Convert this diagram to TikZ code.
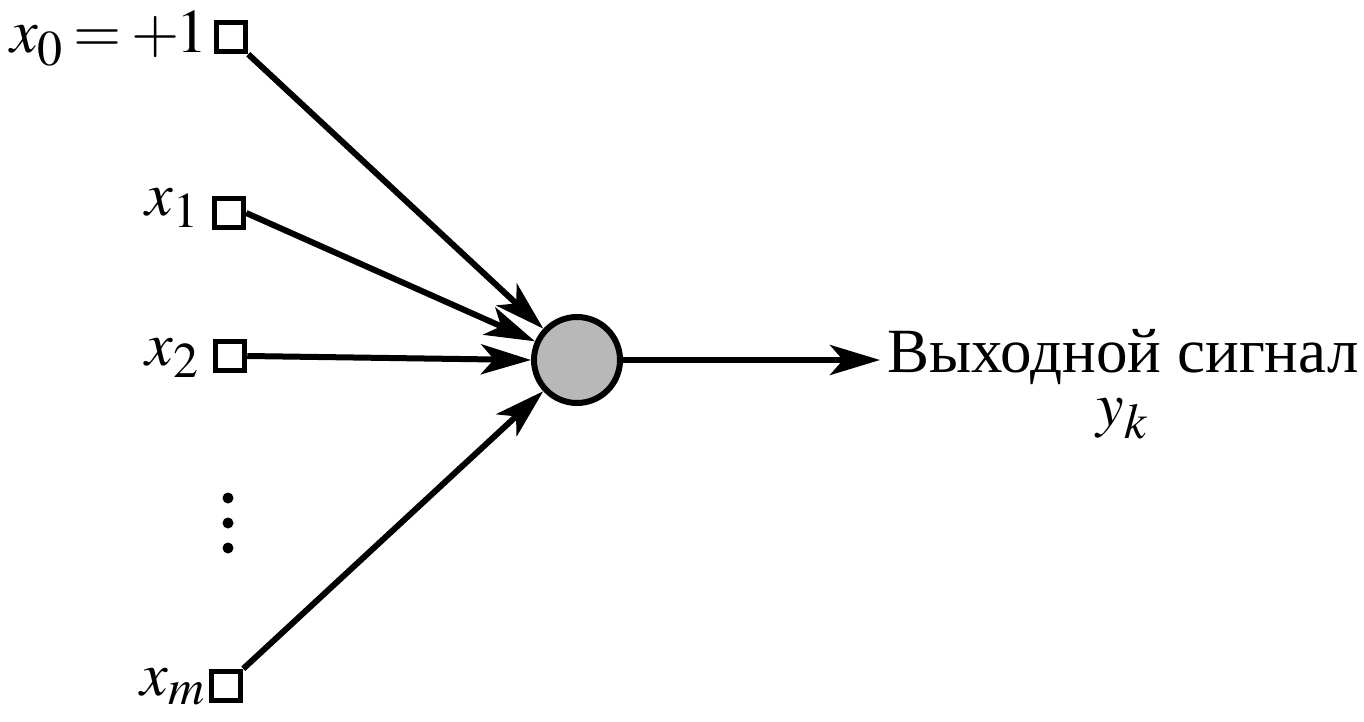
\documentclass[tikz,border=0pt]{standalone}
\usepackage{mathptmx}
\usepackage{fontspec}
\setmainfont{Liberation Serif}
\DeclareMathSizes{62}{62}{50}{40}
\usetikzlibrary{arrows.meta}
\begin{document}
\begin{tikzpicture}[x=1pt,y=-1pt,
  inbox/.style={draw,line width=5.5pt,minimum size=29pt,inner sep=0pt},
  lbl/.style={inner sep=0pt,font=\fontsize{62}{70}\selectfont},
  arr/.style={line width=6pt,-{Stealth[length=50pt,width=30pt,inset=13pt]}},
  neuron/.style={circle,draw,line width=6pt,fill=black!28,minimum size=86pt,inner sep=0pt},
  dot/.style={circle,fill=black,inner sep=0pt,minimum size=11pt}]
\useasboundingbox (0,0) rectangle (1364,722);
% inputs
\node[inbox] (s0) at (231,37) {};
\node[inbox] (s1) at (229,213) {};
\node[inbox] (s2) at (230,356) {};
\node[inbox] (sm) at (226,686) {};
\node[lbl,anchor=base east] (l0) at (208,53) {$x_{0}\mkern3mu{=}\mkern3mu{+}\mkern-1mu1$};
\node[lbl,anchor=base east] (l1) at (199,215) {$x_{1}$};
\node[lbl,anchor=base east] (l2) at (199,365) {$x_{2}$};
\node[lbl,anchor=base east] (lm) at (205,695) {$x_{m}$};
% dots
\node[dot] (d1) at (228,498) {};
\node[dot] (d2) at (228,523) {};
\node[dot] (d3) at (228,548) {};
% neuron
\node[neuron] (n) at (577,360) {};
\draw[arr] (s0.south east) -- (n);
\draw[arr] (s1.east) -- (n);
\draw[arr] (s2.east) -- (n.west);
\draw[arr] (sm.north east) -- (n);
% output
\coordinate (o) at (880,360);
\draw[arr] (n.east) -- (o);
\node[lbl,anchor=base,text depth=0pt,font=\fontsize{63}{70}\selectfont] (out) at (1123,372) {Выходной сигнал};
\node[lbl,anchor=base,text height=28pt] (yk) at (1122,425) {$y_{k}$};
\end{tikzpicture}
\end{document}
